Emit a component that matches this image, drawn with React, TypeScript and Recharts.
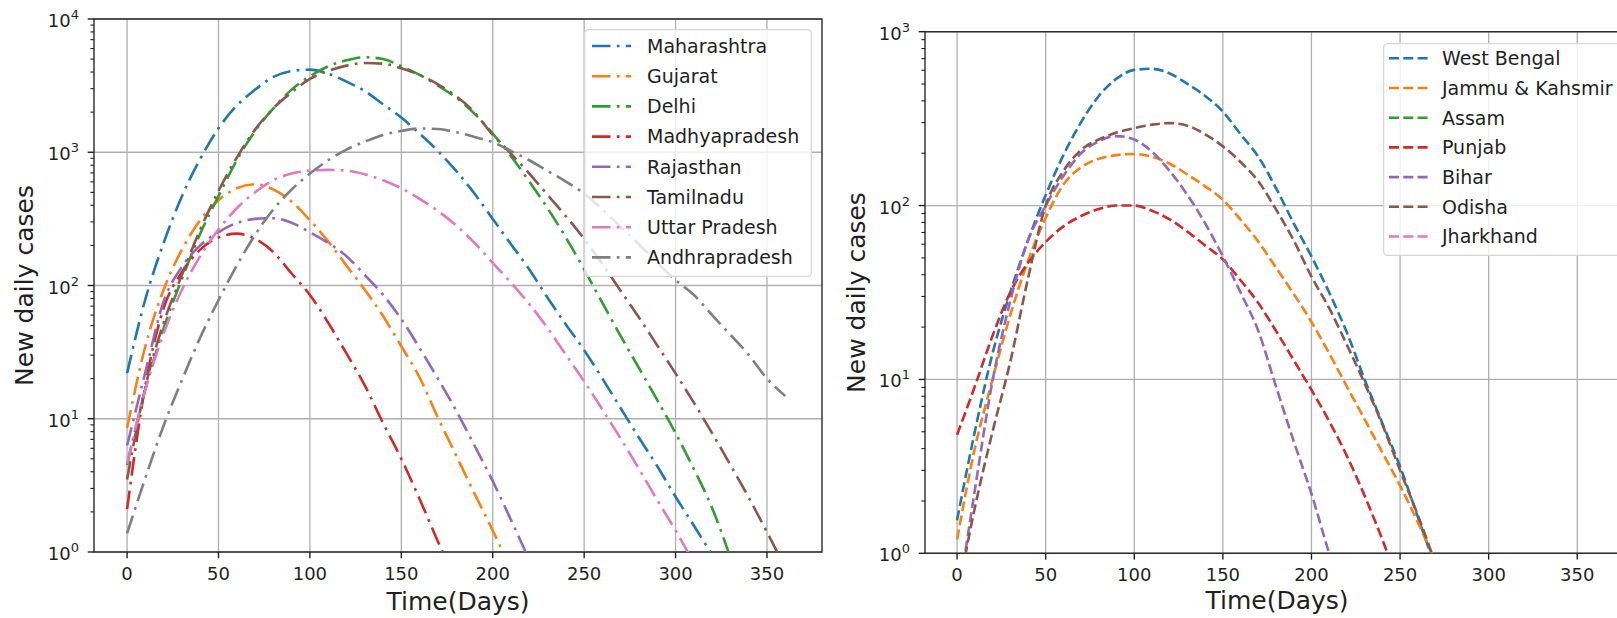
import { CartesianGrid, Legend, Line, LineChart, ReferenceArea, XAxis, YAxis } from 'recharts'

const FONT = '"DejaVu Sans", sans-serif'
const INK = '#1f1f1f'
const GRID = '#b0b0b0'

// left panel (days 0..360, step 10)
const leftDays = [0, 10, 20, 30, 40, 50, 60, 70, 80, 90, 100, 110, 120, 130, 140, 150, 160, 170, 180, 190, 200, 210, 220, 230, 240, 250, 260, 270, 280, 290, 300, 310, 320, 330, 340, 350, 360]
const maharashtra = [22, 79, 209, 468, 891, 1514, 2239, 2951, 3673, 4074, 4169, 3890, 3388, 2884, 2291, 1820, 1380, 1023, 724, 490, 316, 204, 132, 81, 51, 32.7, 20, 12, 7.2, 4.4, 2.6, 1.58, 0.95]
const gujarat = [8.5, 35, 93, 186, 309, 437, 537, 575, 525, 427, 309, 214, 141, 93, 59, 35, 20.4, 10.2, 5.3, 2.75, 1.45, 0.74]
const delhi = [4.5, 16.6, 47.9, 112, 245, 468, 871, 1445, 2138, 2951, 3715, 4416, 4898, 5164, 5012, 4416, 3802, 3162, 2570, 1950, 1380, 933, 603, 380, 229, 132, 74, 41.7, 24, 13.8, 7.8, 4.2, 2.14, 0.91]
const madhyapradesh = [2.1, 17.8, 67.6, 126, 186, 229, 245, 224, 178, 123, 85, 52.5, 30.9, 17.8, 9.3, 5.0, 2.5, 1.2, 0.6]
const rajasthan = [6.3, 22.4, 75.9, 138, 200, 251, 295, 316, 320, 295, 251, 209, 166, 120, 85, 56, 33.9, 20, 11.5, 6.3, 3.4, 1.74, 0.87]
const tamilnadu = [3.5, 17.4, 52.5, 120, 263, 513, 912, 1479, 2138, 2818, 3548, 4074, 4467, 4677, 4624, 4266, 3802, 3236, 2630, 1995, 1349, 977, 692, 479, 331, 224, 145, 91, 57.5, 35.5, 21.9, 13.2, 7.8, 4.5, 2.57, 1.41, 0.76]
const uttarPradesh = [4.6, 16.6, 43.7, 93, 166, 263, 380, 501, 617, 692, 728, 738, 728, 684, 617, 537, 447, 363, 282, 209, 148, 105, 72.4, 47.9, 30.2, 19.1, 11.7, 7.1, 4.2, 2.45, 1.45, 0.83]
const andhrapradesh = [1.38, 3.6, 8.9, 19.5, 40.7, 77.6, 141, 240, 372, 525, 692, 871, 1047, 1202, 1349, 1445, 1507, 1496, 1413, 1303, 1189, 1023, 871, 724, 603, 490, 372, 275, 204, 148, 110, 85, 60, 42.7, 30.2, 20, 14.8]

// right panel (days 0..270, step 10)
const rightDays = [0, 10, 20, 30, 40, 50, 60, 70, 80, 90, 100, 110, 120, 130, 140, 150, 160, 170, 180, 190, 200, 210, 220, 230, 240, 250, 260, 270]
const westBengal = [1.55, 5.0, 14.1, 31.6, 63, 115, 195, 302, 427, 537, 603, 612, 575, 501, 427, 347, 257, 191, 126, 79, 51, 31.6, 18.6, 10, 5.6, 3.16, 1.62, 0.83]
const jammuKashmir = [1.2, 4.0, 10, 23.4, 47.9, 85, 132, 166, 186, 195, 198, 191, 174, 151, 129, 108, 83, 62, 44, 31, 21.4, 14.1, 9.1, 5.9, 3.8, 2.45, 1.51, 0.89]
const assam: number[] = []
const punjab = [4.8, 9.1, 17.8, 31.6, 46.8, 61.7, 75.9, 87.1, 95.5, 100, 100, 93.3, 83.2, 70.8, 58.9, 49, 37.2, 27.5, 19, 12.9, 8.7, 5.75, 3.63, 2.14, 1.2, 0.63]
const bihar = [0.49, 2.3, 9.8, 28.2, 63, 100, 148, 200, 234, 251, 240, 204, 158, 115, 79, 51, 31.6, 19, 9.1, 4.4, 2.2, 1.0, 0.5]
const odisha = [0.55, 1.82, 5.0, 12.6, 38, 100, 158, 209, 240, 263, 279, 292, 298, 288, 257, 219, 178, 138, 95, 63, 39, 25.7, 15.8, 9.5, 5.5, 3.0, 1.66, 0.87]
const jharkhand: number[] = []

const dayTicks = [0, 50, 100, 150, 200, 250, 300, 350]
const leftDecades = [1, 10, 100, 1000, 10000]
const rightDecades = [1, 10, 100, 1000]
const minorSteps = [2, 3, 4, 5, 6, 7, 8, 9]

const tab = ['#1f77b4', '#ff7f0e', '#2ca02c', '#d62728', '#9467bd', '#8c564b', '#e377c2', '#7f7f7f']

type Series = { name: string; color: string; values: number[] }

const leftSeries: Series[] = [
  { name: 'Maharashtra', color: tab[0], values: maharashtra },
  { name: 'Gujarat', color: tab[1], values: gujarat },
  { name: 'Delhi', color: tab[2], values: delhi },
  { name: 'Madhyapradesh', color: tab[3], values: madhyapradesh },
  { name: 'Rajasthan', color: tab[4], values: rajasthan },
  { name: 'Tamilnadu', color: tab[5], values: tamilnadu },
  { name: 'Uttar Pradesh', color: tab[6], values: uttarPradesh },
  { name: 'Andhrapradesh', color: tab[7], values: andhrapradesh },
]

const rightSeries: Series[] = [
  { name: 'West Bengal', color: tab[0], values: westBengal },
  { name: 'Jammu & Kahsmir', color: tab[1], values: jammuKashmir },
  { name: 'Assam', color: tab[2], values: assam },
  { name: 'Punjab', color: tab[3], values: punjab },
  { name: 'Bihar', color: tab[4], values: bihar },
  { name: 'Odisha', color: tab[5], values: odisha },
  { name: 'Jharkhand', color: tab[6], values: jharkhand },
]

function buildRows(days: number[], series: Series[]) {
  return days.map((day, i) => {
    const row: Record<string, number | null> = { day }
    series.forEach((s) => {
      row[s.name] = s.values[i] ?? null
    })
    return row
  })
}

function logTicks(decades: number[]) {
  const out: number[] = []
  decades.forEach((d, i) => {
    out.push(d)
    if (i < decades.length - 1) minorSteps.forEach((m) => out.push(d * m))
  })
  return out
}

function PowerTick(props: any) {
  const { x, y, payload } = props
  const v = payload.value as number
  const exp = Math.round(Math.log10(v))
  const major = Math.abs(v - Math.pow(10, exp)) < 1e-9
  return (
    <g>
      <line x1={x - (major ? 6.3 : 3.6)} x2={x} y1={y} y2={y} stroke={INK} strokeWidth={major ? 1.4 : 1.1} />
      {major && (
        <text x={x - 15} y={y + 8} textAnchor="end" fontSize={18} fill={INK} fontFamily={FONT}>
          10
          <tspan dy={-8} fontSize={13}>
            {exp}
          </tspan>
        </text>
      )}
    </g>
  )
}

type LegendSpec = {
  left: number
  top: number
  width: number
  height: number
  rowTop: number
  rowGap: number
  lineX: number
  textX: number
}

function LegendBox({ items, spec, dash }: { items: Series[]; spec: LegendSpec; dash: string }) {
  return (
    <svg width={spec.width} height={spec.height} style={{ display: 'block' }}>
      <rect
        x={0.6}
        y={0.6}
        width={spec.width - 1.2}
        height={spec.height - 1.2}
        rx={4}
        fill="rgba(255,255,255,0.8)"
        stroke="#d6d6d6"
        strokeWidth={1.3}
      />
      {items.map((it, i) => {
        const cy = spec.rowTop + i * spec.rowGap
        return (
          <g key={it.name}>
            <line x1={spec.lineX} x2={spec.lineX + 39} y1={cy} y2={cy} stroke={it.color} strokeWidth={2.6} strokeDasharray={dash} />
            <text x={spec.textX} y={cy} dy="0.36em" fontSize={19} fill={INK} fontFamily={FONT}>
              {it.name}
            </text>
          </g>
        )
      })}
    </svg>
  )
}

type PanelProps = {
  days: number[]
  series: Series[]
  decades: number[]
  dash: string
  margin: { top: number; right: number; bottom: number; left: number }
  legend: LegendSpec
}

function Panel({ days, series, decades, dash, margin, legend }: PanelProps) {
  const rows = buildRows(days, series)
  const yMax = decades[decades.length - 1]
  return (
    <LineChart width={840} height={618} data={rows} margin={margin}>
      <CartesianGrid stroke={GRID} strokeWidth={1.3} horizontalValues={decades} verticalValues={dayTicks} />
      <XAxis
        type="number"
        dataKey="day"
        domain={[-18.1, 380.1]}
        ticks={dayTicks}
        allowDataOverflow
        interval={0}
        axisLine={false}
        tickSize={6.3}
        tickMargin={8.7}
        tickLine={{ stroke: INK, strokeWidth: 1.4 }}
        tick={{ fontSize: 18, fill: INK, fontFamily: FONT }}
        height={30}
      />
      <YAxis
        type="number"
        scale="log"
        domain={[1, yMax]}
        ticks={logTicks(decades)}
        allowDataOverflow
        interval={0}
        axisLine={false}
        tickLine={false}
        tickSize={0}
        tickMargin={0}
        tick={<PowerTick />}
        width={60}
      />
      {series.map((s) => (
        <Line
          key={s.name}
          type="monotone"
          dataKey={s.name}
          stroke={s.color}
          strokeWidth={2.6}
          strokeDasharray={dash}
          dot={false}
          activeDot={false}
          connectNulls={false}
          isAnimationActive={false}
        />
      ))}
      <ReferenceArea x1={-18.1} x2={380.1} y1={1} y2={yMax} fill="none" stroke="#2b2b2b" strokeWidth={1.4} ifOverflow="visible" />
      <Legend
        layout="vertical"
        align="center"
        verticalAlign="middle"
        wrapperStyle={{ left: legend.left, top: legend.top, width: legend.width, height: legend.height }}
        content={() => <LegendBox items={series} spec={legend} dash={dash} />}
      />
    </LineChart>
  )
}

export default function App() {
  return (
    <div
      style={{
        position: 'absolute',
        left: 0,
        top: 0,
        width: 1617,
        height: 618,
        overflow: 'hidden',
        background: '#fff',
        fontFamily: FONT,
      }}
    >
      <div style={{ position: 'absolute', left: 0, top: 0 }}>
        <Panel
          days={leftDays}
          series={leftSeries}
          decades={leftDecades}
          dash="18.5 6.3 2.7 6.3"
          margin={{ top: 19, right: 18, bottom: 36, left: 34 }}
          legend={{ left: 584, top: 29, width: 228, height: 248, rowTop: 17, rowGap: 30.2, lineX: 8, textX: 63 }}
        />
      </div>
      <div style={{ position: 'absolute', left: 840, top: 0 }}>
        <Panel
          days={rightDays}
          series={rightSeries}
          decades={rightDecades}
          dash="10 4.3"
          margin={{ top: 31.7, right: 49.4, bottom: 34.7, left: 25 }}
          legend={{ left: 543, top: 43, width: 250, height: 213, rowTop: 15.3, rowGap: 29.7, lineX: 6, textX: 59 }}
        />
      </div>
      <svg width={1617} height={618} style={{ position: 'absolute', left: 0, top: 0, pointerEvents: 'none' }}>
        <g fontFamily={FONT} fontSize={25} fill={INK} textAnchor="middle">
          <text x={458} y={610}>Time(Days)</text>
          <text x={1277} y={609}>Time(Days)</text>
          <text x={33} y={285.5} transform="rotate(-90 33 285.5)">New daily cases</text>
          <text x={865} y={292.5} transform="rotate(-90 865 292.5)">New daily cases</text>
        </g>
      </svg>
    </div>
  )
}
